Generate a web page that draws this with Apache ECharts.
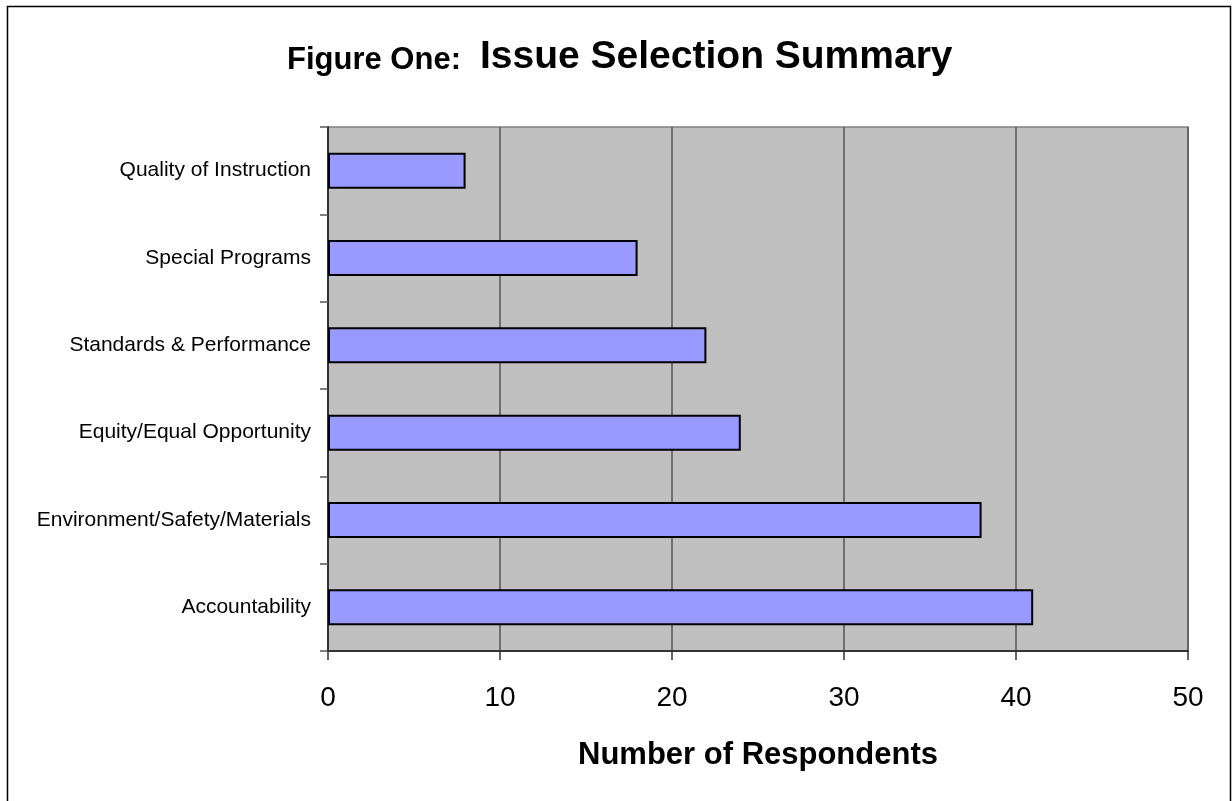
<!DOCTYPE html>
<html>
<head>
<meta charset="utf-8">
<script src="https://cdn.jsdelivr.net/npm/echarts@6/dist/echarts.min.js"></script>
<style>
  html, body { margin: 0; padding: 0; background: #fff; }
  #chart { width: 1232px; height: 801px; }
</style>
</head>
<body>
<div id="chart"></div>
<script>
// Issues chosen by respondents, listed top to bottom
const categories = [
  'Quality of Instruction',
  'Special Programs',
  'Standards & Performance',
  'Equity/Equal Opportunity',
  'Environment/Safety/Materials',
  'Accountability'
];
const respondents = [8, 18, 22, 24, 38, 41];
const xTicks = [0, 10, 20, 30, 40, 50];

const FONT = 'Liberation Sans, Arial, sans-serif';

const chart = echarts.init(document.getElementById('chart'));
chart.setOption({
  animation: false,
  backgroundColor: '#ffffff',
  graphic: [
    {
      // outer frame
      type: 'rect',
      shape: { x: 7.5, y: 6.5, width: 1223, height: 810 },
      style: { fill: 'none', stroke: '#000', lineWidth: 1.5 },
      silent: true
    },
    {
      // title prefix
      type: 'text',
      x: 287, y: 60.5,
      style: { text: 'Figure One:', fontFamily: FONT, fontWeight: 'bold', fontSize: 31, fill: '#000', textAlign: 'left', textVerticalAlign: 'middle' },
      silent: true
    },
    {
      // main title
      type: 'text',
      x: 480, y: 57,
      style: { text: 'Issue Selection Summary', fontFamily: FONT, fontWeight: 'bold', fontSize: 39, fill: '#000', textAlign: 'left', textVerticalAlign: 'middle' },
      silent: true
    }
  ],
  grid: {
    left: 328, top: 127, width: 860, height: 524,
    show: true, backgroundColor: '#c0c0c0', borderColor: '#808080', borderWidth: 1.5
  },
  xAxis: {
    type: 'value',
    min: 0, max: 50, interval: 10,
    name: 'Number of Respondents',
    nameLocation: 'middle',
    nameGap: 89,
    nameTextStyle: { fontFamily: FONT, fontWeight: 'bold', fontSize: 31, color: '#000' },
    axisLine: { show: true, lineStyle: { color: '#333', width: 2 } },
    axisTick: { show: true, length: 9, inside: false, lineStyle: { color: '#333', width: 1.5 } },
    axisLabel: {
      margin: 33,
      fontFamily: FONT, fontSize: 28, color: '#000',
      formatter: v => xTicks.includes(v) ? String(v) : ''
    },
    splitLine: { show: true, lineStyle: { color: '#555', width: 1.5 } }
  },
  yAxis: {
    type: 'category',
    inverse: true,
    data: categories,
    axisLine: { show: true, lineStyle: { color: '#333', width: 2 } },
    axisTick: { show: true, length: 8, alignWithLabel: false, lineStyle: { color: '#555', width: 1.5 } },
    axisLabel: {
      margin: 17,
      fontFamily: FONT, fontSize: 21, color: '#000'
    },
    splitLine: { show: false }
  },
  series: [{
    type: 'bar',
    data: respondents,
    barWidth: 36,
    itemStyle: { color: '#9999ff', borderColor: '#000', borderWidth: 2 }
  }]
});
</script>
</body>
</html>
